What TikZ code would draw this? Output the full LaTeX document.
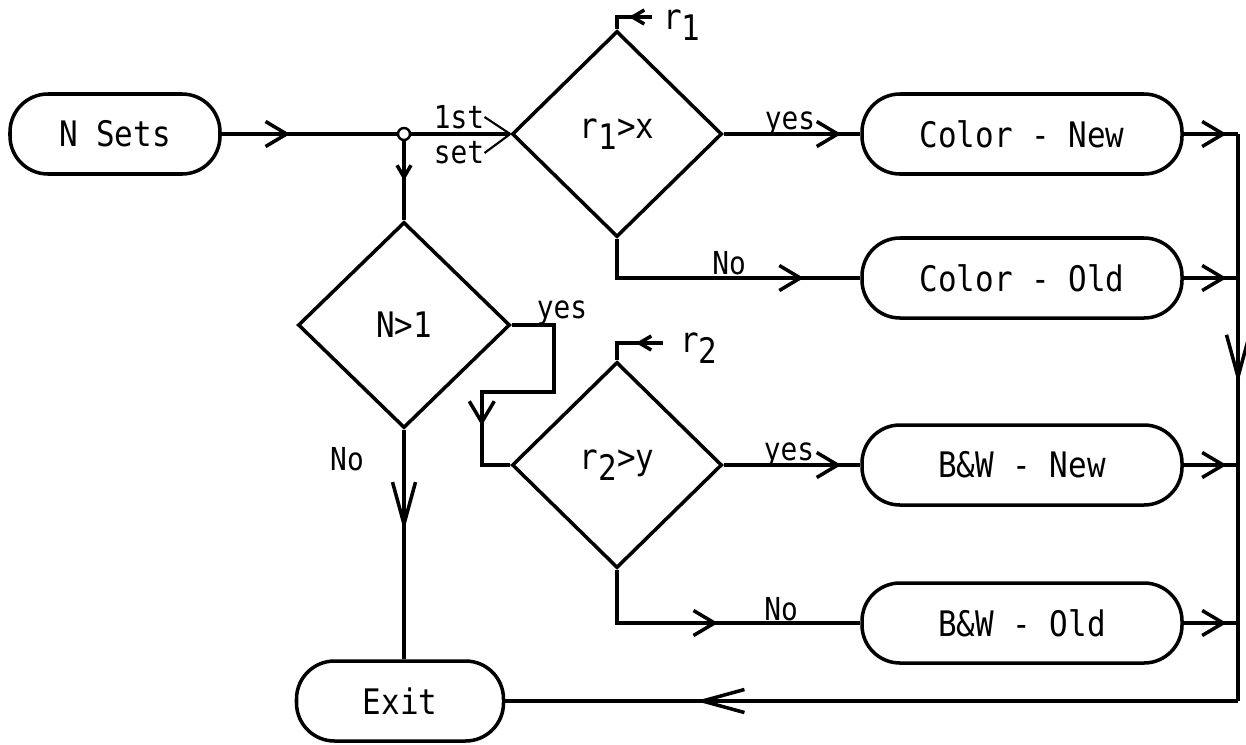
\documentclass[tikz,border=0pt]{standalone}
\usepackage{fontspec}
\setmainfont[FakeStretch=0.88]{DejaVu Sans Mono}
\usetikzlibrary{arrows.meta,positioning,shapes.geometric,decorations.markings}
\newcommand{\lowsub}[1]{\raisebox{-0.55ex}{#1}}
\tikzset{
  chev/.tip={Straight Barb[length=4.2mm,width=5mm]},
  chevlong/.tip={Straight Barb[length=8.4mm,width=4.6mm]},
  chevsmall/.tip={Straight Barb[length=2.4mm,width=2.8mm]},
  term/.style={draw,line width=2pt,rounded corners=7.6mm,minimum width=#1,minimum height=16mm,font=\fontsize{20}{22}\selectfont},
  term/.default=64mm,
  decide/.style={diamond,draw,line width=2pt,minimum width=42mm,minimum height=41.2mm,inner sep=0pt,font=\fontsize{20}{22}\selectfont},
  junc/.style={circle,draw,line width=1.4pt,fill=white,inner sep=0pt,minimum size=2.4mm},
  flow/.style={line width=2pt},
  arr/.style={flow,postaction={decorate},decoration={markings,mark=at position #1 with {\arrow{chev}}}},
  arrlong/.style={flow,postaction={decorate},decoration={markings,mark=at position #1 with {\arrow{chevlong}}}},
  arrsmall/.style={flow,postaction={decorate},decoration={markings,mark=at position #1 with {\arrow{chevsmall}}}},
  lbl/.style={font=\fontsize{18}{20}\selectfont,inner sep=0pt},
  leader/.style={line width=1.2pt}
}
\begin{document}
\begin{tikzpicture}[x=0.2mm,y=-0.2mm]
\useasboundingbox (0,0) rectangle (1246,744);
\node[term=42mm] (nsets) at (115,134) {N Sets};
\node[junc] (jn) at (404,134) {};
\node[decide] (r1) at (617,134) {r\lowsub{1}>x};
\node[term] (colnew) at (1022,134) {Color - New};
\node[term] (colold) at (1022,278) {Color - Old};
\node[decide,minimum width=42.4mm] (nlone) at (404,325) {N>1};
\node[decide] (r2) at (617,465) {r\lowsub{2}>y};
\node[term] (bwnew) at (1022,465) {B\&W - New};
\node[term] (bwold) at (1022,623) {B\&W - Old};
\node[term=41.4mm] (exit) at (400,701) {Exit};

% collecting line on the right
\coordinate (busT) at (1238,134);
\coordinate (busB) at (1238,701);
\coordinate (r1in) at (652,17);
\coordinate (r2in) at (663,343);

% main line
\draw[arr=0.39] (nsets) -- (jn);
\draw[flow] (jn) -- (r1);
\draw[arrsmall=0.5] (jn) -- (nlone);

% first test
\draw[arr=0.86] (r1) -- (colnew);
\draw[arr=0.8] (r1.south) |- (colold.west);
\draw[arrsmall=0.49] (r1in) -| (r1.north);

% more sets
\draw[arrlong=0.44] (nlone.south) -- (nlone.south |- exit.north);
\draw[arr=0.76] (nlone.east) -- ++(42,0) -- ++(0,67) -- ++(-72,0) |- (r2.west);

% second test
\draw[arr=0.86] (r2) -- (bwnew);
\draw[arr=0.52] (r2.south) |- (bwold.west);
\draw[arrsmall=0.43] (r2in) -| (r2.north);

% outputs back to exit
\foreach \b in {colnew,colold,bwnew,bwold}
  \draw[arr=0.79] (\b.east) -- (\b.east -| busT);
\draw[arrlong=0.44] (busT) -- (busB);
\draw[arrlong=0.74] (busB) -- (exit.east);

% labels
\node[lbl,font=\fontsize{20}{22}\selectfont,right=2.2mm of r1in,yshift=-1.6mm] (r1lbl) {r\lowsub{1}};
\node[lbl,font=\fontsize{20}{22}\selectfont,right=3.4mm of r2in,yshift=-1mm] (r2lbl) {r\lowsub{2}};
\node[lbl] (first) at (459,117) {1st};
\node[lbl] (setlbl) at (459,153) {set};
\draw[leader] (first.east) -- (r1.west);
\draw[leader] (setlbl.east) -- (r1.west);
\node[lbl,anchor=base] (yes1) at (790,129) {yes};
\node[lbl,anchor=base] (no1) at (729,274) {No};
\node[lbl,anchor=base] (yes0) at (562,318) {yes};
\node[lbl,anchor=base] (no0) at (347,470) {No};
\node[lbl,anchor=base] (yes2) at (789,460) {yes};
\node[lbl,anchor=base] (no2) at (781,620) {No};
\end{tikzpicture}
\end{document}
